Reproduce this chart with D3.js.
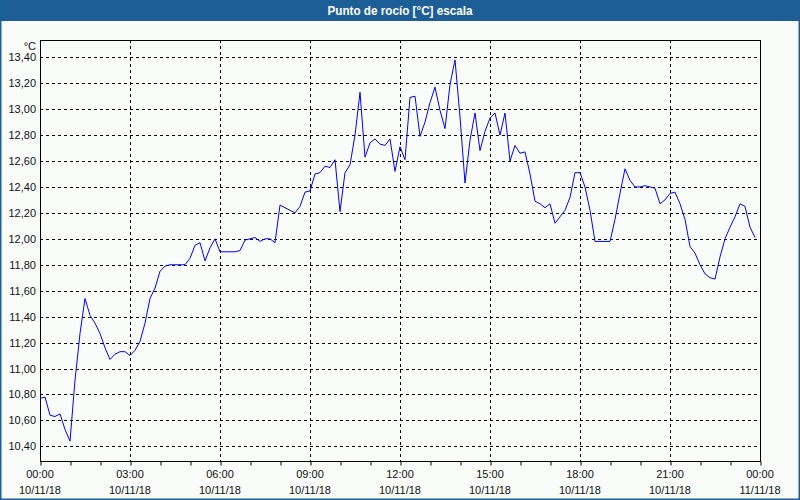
<!DOCTYPE html>
<html>
<head>
<meta charset="utf-8">
<script src="https://cdn.jsdelivr.net/npm/d3@7"></script>
<style>
  html, body { margin: 0; padding: 0; background: #fafcfa; }
  svg { display: block; }
  text { font-family: "Liberation Sans", Arial, sans-serif; }
</style>
</head>
<body>
<svg id="chart" width="800" height="500"></svg>
<script>
// Chart title and unit
const title = "Punto de rocío [°C] escala";
const unit = "°C";

// Dew point readings, every 10 minutes, 00:00 - 11:50
const dewAM = [
  10.77, 10.78, 10.64, 10.63, 10.65, 10.53, 10.44, 10.91, 11.27, 11.54,
  11.41, 11.35, 11.27, 11.16, 11.07, 11.11, 11.13, 11.13, 11.10, 11.14,
  11.21, 11.35, 11.54, 11.62, 11.75, 11.79, 11.80, 11.80, 11.80, 11.80,
  11.85, 11.95, 11.97, 11.83, 11.93, 12.00, 11.90, 11.90, 11.90, 11.90,
  11.91, 11.99, 12.00, 12.01, 11.98, 12.00, 12.00, 11.97, 12.26, 12.24,
  12.22, 12.20, 12.25, 12.36, 12.37, 12.50, 12.51, 12.56, 12.55, 12.61,
  12.21, 12.51, 12.57, 12.80, 13.13, 12.63, 12.74, 12.77, 12.73, 12.72,
  12.77, 12.52
];
// 12:00 - 23:50
const dewPM = [
  12.71, 12.61, 13.09, 13.10, 12.79, 12.90, 13.05, 13.17, 12.99, 12.85,
  13.19, 13.38, 12.94, 12.43, 12.76, 12.97, 12.68, 12.83, 12.93, 12.97,
  12.80, 12.97, 12.60, 12.72, 12.66, 12.67, 12.50, 12.29, 12.27, 12.24,
  12.27, 12.12, 12.17, 12.22, 12.32, 12.51, 12.51, 12.40, 12.22, 11.98,
  11.98, 11.98, 11.98, 12.15, 12.35, 12.54, 12.45, 12.40, 12.40, 12.41,
  12.40, 12.39, 12.27, 12.30, 12.35, 12.36, 12.27, 12.15, 11.94, 11.89,
  11.80, 11.73, 11.70, 11.69, 11.86, 12.00, 12.09, 12.17, 12.27, 12.25,
  12.09, 12.01
];

// y tick labels
const yTicks = [10.4, 10.6, 10.8, 11.0, 11.2, 11.4, 11.6, 11.8, 12.0, 12.2,
                12.4, 12.6, 12.8, 13.0, 13.2, 13.4];

const startTime = new Date(2018, 10, 10, 0, 0);
const endTime = new Date(2018, 10, 11, 0, 0);
const stepMinutes = 10;

const dew = dewAM.concat(dewPM).map((v, i) => ({
  t: d3.timeMinute.offset(startTime, i * stepMinutes),
  v: v
}));

const W = 800, H = 500;
const plot = {left: 40, right: 760, top: 40, bottom: 461};
const blue = "#1d5e96";

const svg = d3.select("#chart");

// background frame + title bar
svg.append("rect").attr("x", 0).attr("y", 0).attr("width", W).attr("height", H)
  .attr("fill", "#fafcfa");
svg.append("rect").attr("x", 0).attr("y", 0).attr("width", W).attr("height", 21)
  .attr("fill", blue);
svg.append("rect").attr("x", 0.5).attr("y", 0.5).attr("width", W - 1).attr("height", H - 1)
  .attr("fill", "none").attr("stroke", blue).attr("stroke-width", 2);
svg.append("text")
  .attr("x", W / 2).attr("y", 15)
  .attr("text-anchor", "middle")
  .attr("fill", "#fff")
  .attr("font-size", 12).attr("font-weight", "bold")
  .attr("textLength", 145).attr("lengthAdjust", "spacingAndGlyphs")
  .text(title);

// scales
const x = d3.scaleTime().domain([startTime, endTime]).range([plot.left, plot.right]);
const y = d3.scaleLinear().domain([10.287, 13.533]).range([plot.bottom, plot.top]);

const crisp = v => Math.round(v) + 0.5;

// grid
const grid = svg.append("g").attr("stroke", "#000").attr("stroke-width", 1)
  .attr("stroke-dasharray", "3,3");
grid.selectAll(".hgrid").data(yTicks).enter().append("line")
  .attr("x1", plot.left).attr("x2", plot.right)
  .attr("y1", d => crisp(y(d))).attr("y2", d => crisp(y(d)));
const vTimes = d3.timeHour.every(3).range(startTime, endTime).slice(1);
grid.selectAll(".vgrid").data(vTimes).enter().append("line")
  .attr("y1", plot.top).attr("y2", plot.bottom)
  .attr("x1", d => crisp(x(d))).attr("x2", d => crisp(x(d)));

// plot border
svg.append("rect")
  .attr("x", plot.left + 0.5).attr("y", plot.top + 0.5)
  .attr("width", plot.right - plot.left).attr("height", plot.bottom - plot.top)
  .attr("fill", "none").attr("stroke", "#000");

// x axis: hourly ticks, labels every 3h
const xAxis = d3.axisBottom(x)
  .ticks(d3.timeHour.every(1))
  .tickSize(4)
  .tickFormat("");
svg.append("g").attr("transform", `translate(0.5,${plot.bottom + 0.5})`).call(xAxis)
  .call(g => g.select(".domain").remove());

const labelTimes = d3.timeHour.every(3).range(startTime, d3.timeMinute.offset(endTime, 1));
const xl = svg.append("g").attr("font-size", 11).attr("fill", "#111").attr("text-anchor", "middle");
xl.selectAll(".t1").data(labelTimes).enter().append("text")
  .attr("x", d => x(d)).attr("y", 478)
  .text(d3.timeFormat("%H:%M"));
xl.selectAll(".t2").data(labelTimes).enter().append("text")
  .attr("x", d => x(d)).attr("y", 494)
  .text(d3.timeFormat("%d/%m/%y"));

// y axis labels
const fmt = d => d3.format(".2f")(d).replace(".", ",");
const yl = svg.append("g").attr("font-size", 11).attr("fill", "#111").attr("text-anchor", "end");
yl.selectAll("text").data(yTicks).enter().append("text")
  .attr("x", 36).attr("y", d => y(d) + 4)
  .text(fmt);
svg.append("text").attr("x", 36).attr("y", 50).attr("font-size", 11)
  .attr("fill", "#111").attr("text-anchor", "end").text(unit);

// line
const line = d3.line().x(d => x(d.t)).y(d => y(d.v));
svg.append("path").datum(dew)
  .attr("d", line)
  .attr("fill", "none")
  .attr("stroke", "#0000ff")
  .attr("stroke-width", 1);
</script>
</body>
</html>
